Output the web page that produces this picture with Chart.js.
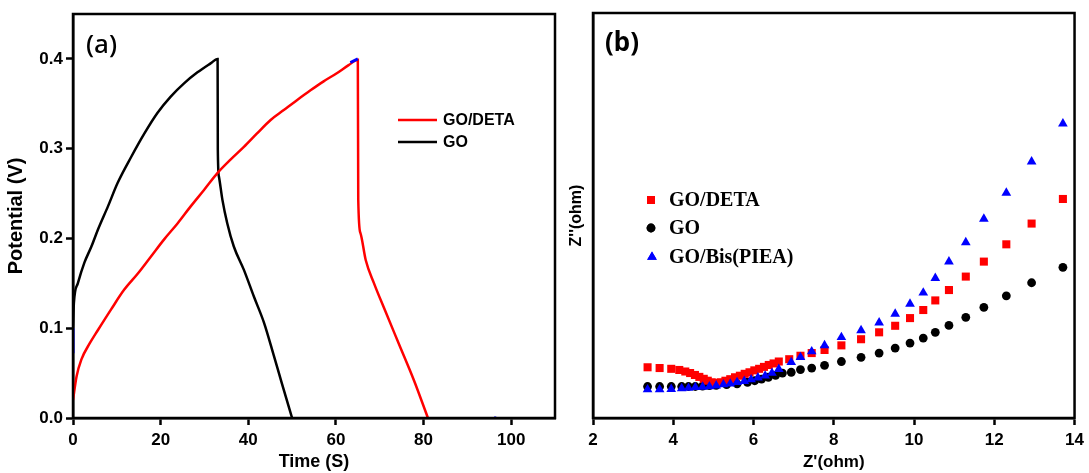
<!DOCTYPE html>
<html>
<head>
<meta charset="utf-8">
<script src="https://cdn.jsdelivr.net/npm/chart.js@4.4.1/dist/chart.umd.min.js"></script>
<style>
    html, body { margin: 0; padding: 0; background: #fff; }
    #wrap { position: relative; width: 1089px; height: 473px; overflow: hidden; }
    #gcdChart { position: absolute; left: 0; top: 0; }
    #eisChart { position: absolute; left: 555px; top: 0; }
</style>
</head>
<body>
<div id="wrap">
    <canvas id="gcdChart" width="560" height="473"></canvas>
    <canvas id="eisChart" width="534" height="473"></canvas>
</div>
<script>
// --- Data: (a) charge/discharge curves ---
const TIME_TICKS = [0, 20, 40, 60, 80, 100];
const POTENTIAL_TICKS = [0.0, 0.1, 0.2, 0.3, 0.4];

const GO_TIME = [0, 0.2, 1.1, 2.6, 4.2, 5.7, 8.0, 10.2, 13.3, 16.3, 19.3, 22.3, 25.4, 28.4, 31.4, 33.0,
    33.05, 33.3, 34.1, 35.2, 36.7, 39.0, 41.3, 43.6, 45.8, 47.7, 50.0];
const GO_POTENTIAL = [0.100, 0.128, 0.150, 0.173, 0.191, 0.210, 0.236, 0.262, 0.291, 0.317, 0.340, 0.358, 0.373, 0.385, 0.395, 0.400,
    0.299, 0.269, 0.243, 0.217, 0.191, 0.165, 0.135, 0.106, 0.070, 0.038, 0.000];

const DETA_TIME = [0, 0.8, 1.9, 3.8, 5.7, 8.7, 11.7, 14.8, 17.8, 20.8, 23.9, 26.9, 29.9, 33.0, 36.0, 39.0, 42.0,
    45.1, 48.1, 51.1, 54.2, 57.2, 60.2, 62.9, 65.0, 65.1, 65.6, 66.8, 68.7, 71.2, 74.5, 77.8, 81.0];
const DETA_POTENTIAL = [0.020, 0.046, 0.065, 0.083, 0.098, 0.121, 0.143, 0.161, 0.180, 0.199, 0.217, 0.236, 0.254, 0.273, 0.288, 0.302, 0.317,
    0.332, 0.343, 0.354, 0.365, 0.375, 0.384, 0.393, 0.399, 0.243, 0.206, 0.176, 0.150, 0.120, 0.081, 0.042, 0.000];

// small blue fragments peeking out in panel (a)
const BIS_TIME_A = [0, 0, null, 63.3, 65.0, null, 96.1, 96.6];
const BIS_POTENTIAL_A = [0.072, 0.100, null, 0.396, 0.400, null, 0.000, 0.000];

// --- Data: (b) Nyquist plot ---
const ZRE_TICKS = [2, 4, 6, 8, 10, 12, 14];

const DETA_ZRE = [3.36, 3.66, 3.95, 4.15, 4.30, 4.42, 4.54, 4.65, 4.76, 4.86, 4.96, 5.06, 5.18, 5.30, 5.42, 5.54, 5.66,
    5.78, 5.90, 6.02, 6.14, 6.26, 6.38, 6.50, 6.63, 6.89, 7.17, 7.45, 7.77, 8.19, 8.68, 9.13, 9.53, 9.90, 10.23,
    10.53, 10.87, 11.29, 11.74, 12.30, 12.93, 13.71];
const DETA_ZIM = [1.32, 1.30, 1.28, 1.25, 1.21, 1.17, 1.12, 1.07, 1.02, 0.97, 0.93, 0.91, 0.93, 0.97, 1.01, 1.06, 1.10,
    1.15, 1.19, 1.24, 1.28, 1.33, 1.38, 1.42, 1.47, 1.53, 1.62, 1.69, 1.77, 1.89, 2.05, 2.23, 2.40, 2.60, 2.81,
    3.06, 3.33, 3.68, 4.07, 4.52, 5.06, 5.70];

const GO_ZRE = [3.36, 3.66, 3.95, 4.21, 4.38, 4.55, 4.73, 4.90, 5.07, 5.33, 5.59, 5.85, 6.03, 6.20, 6.37, 6.55, 6.72,
    6.94, 7.17, 7.45, 7.77, 8.19, 8.68, 9.13, 9.53, 9.90, 10.23, 10.53, 10.87, 11.29, 11.74, 12.30, 12.93, 13.71];
const GO_ZIM = [0.82, 0.82, 0.82, 0.82, 0.82, 0.82, 0.83, 0.84, 0.85, 0.87, 0.89, 0.93, 0.97, 1.01, 1.06, 1.11, 1.17,
    1.19, 1.26, 1.30, 1.37, 1.47, 1.58, 1.69, 1.82, 1.95, 2.08, 2.23, 2.41, 2.62, 2.88, 3.18, 3.52, 3.92];

const BIS_ZRE = [3.36, 3.66, 3.95, 4.21, 4.38, 4.55, 4.73, 4.90, 5.07, 5.25, 5.42, 5.59, 5.77, 5.94, 6.11, 6.29, 6.46,
    6.63, 6.94, 7.17, 7.45, 7.77, 8.19, 8.68, 9.13, 9.53, 9.90, 10.23, 10.53, 10.87, 11.29, 11.74, 12.30, 12.93, 13.71];
const BIS_ZIM = [0.74, 0.74, 0.75, 0.77, 0.78, 0.80, 0.81, 0.82, 0.84, 0.87, 0.89, 0.93, 0.96, 1.00, 1.05, 1.10, 1.17,
    1.27, 1.45, 1.58, 1.73, 1.89, 2.10, 2.28, 2.48, 2.71, 2.97, 3.26, 3.64, 4.07, 4.57, 5.18, 5.86, 6.67, 7.66];

// --- Config ---
const COLORS = {
    deta: '#ff0000',
    go: '#000000',
    bis: '#0000ff',
    axis: '#000000'
};
const SANS = "'Liberation Sans', Arial, sans-serif";
const SERIF = "'Liberation Serif', 'Times New Roman', serif";

const toPoints = (xs, ys) => xs.map((x, i) => ({ x: x, y: ys[i] }));

// frame + legend + panel label, drawn on top of the chart
const framePlugin = {
    id: 'frame',
    afterDraw(chart, args, opts) {
        const { ctx, chartArea: a } = chart;
        ctx.save();
        ctx.strokeStyle = COLORS.axis;
        ctx.lineWidth = 2.5;
        ctx.strokeRect(a.left, a.top, a.right - a.left, a.bottom - a.top);

        ctx.fillStyle = '#000';
        ctx.textBaseline = 'alphabetic';
        ctx.textAlign = 'left';
        ctx.font = opts.labelFont;
        ctx.fillText(opts.label, opts.labelX, opts.labelY);

        opts.legend.forEach(item => {
            ctx.fillStyle = item.color;
            ctx.strokeStyle = item.color;
            if (item.kind === 'line') {
                ctx.lineWidth = 2.5;
                ctx.beginPath();
                ctx.moveTo(item.x, item.y);
                ctx.lineTo(item.x + 39, item.y);
                ctx.stroke();
            } else {
                Chart.helpers.drawPoint(ctx, { pointStyle: item.kind, radius: item.r, borderWidth: 0 }, item.x, item.y);
                ctx.fill();
            }
            ctx.fillStyle = '#000';
            ctx.font = opts.legendFont;
            ctx.textBaseline = 'middle';
            ctx.fillText(item.text, item.tx, item.y + 1);
        });
        ctx.restore();
    }
};

function fixedTicks(list) {
    return scale => { scale.ticks = list.map(v => ({ value: v })); };
}

const tickFont = { family: SANS, size: 17, weight: 'bold' };
const gridStyle = { display: true, drawOnChartArea: false, drawTicks: true, tickLength: 7, tickWidth: 2.5, color: COLORS.axis };

// --- 1. Panel (a): galvanostatic charge/discharge ---
new Chart(document.getElementById('gcdChart'), {
    type: 'line',
    data: {
        datasets: [
            { label: 'GO/DETA', data: toPoints(DETA_TIME, DETA_POTENTIAL), borderColor: COLORS.deta, borderWidth: 2.5, pointRadius: 0, cubicInterpolationMode: 'monotone', order: 1 },
            { label: 'GO', data: toPoints(GO_TIME, GO_POTENTIAL), borderColor: COLORS.go, borderWidth: 2.5, pointRadius: 0, cubicInterpolationMode: 'monotone', order: 2 },
            { label: 'GO/Bis(PIEA)', data: toPoints(BIS_TIME_A, BIS_POTENTIAL_A), borderColor: COLORS.bis, borderWidth: 3, pointRadius: 0, spanGaps: false, order: 0 }
        ]
    },
    options: {
        responsive: false,
        animation: false,
        parsing: false,
        layout: { padding: { top: 14, right: 5, left: 0, bottom: 0 } },
        plugins: {
            legend: { display: false },
            tooltip: { enabled: false },
            frame: {
                label: '(a)', labelX: 86, labelY: 53, labelFont: `500 26px 'Noto Sans', ${SANS}`,
                legendFont: `bold 16px ${SANS}`,
                legend: [
                    { kind: 'line', color: COLORS.deta, x: 398, y: 120, tx: 443, text: 'GO/DETA' },
                    { kind: 'line', color: COLORS.go, x: 398, y: 142, tx: 443, text: 'GO' }
                ]
            }
        },
        scales: {
            x: {
                type: 'linear', min: 0, max: 110,
                afterBuildTicks: fixedTicks(TIME_TICKS),
                afterFit: s => { s.height = 55; },
                grid: gridStyle,
                border: { display: true, width: 2.5, color: COLORS.axis },
                ticks: { color: '#000', font: tickFont, padding: 5, maxRotation: 0 },
                title: { display: true, text: 'Time (S)', color: '#000', font: { family: SANS, size: 18, weight: 'bold' }, padding: { bottom: 0 } }
            },
            y: {
                type: 'linear', min: 0, max: 0.45,
                afterBuildTicks: fixedTicks(POTENTIAL_TICKS),
                afterFit: s => { s.width = 73; },
                grid: gridStyle,
                border: { display: true, width: 2.5, color: COLORS.axis },
                ticks: { color: '#000', font: tickFont, padding: 3, callback: v => v.toFixed(1) },
                title: { display: true, text: 'Potential (V)', color: '#000', font: { family: SANS, size: 20, weight: 'bold' }, padding: { top: 4 } }
            }
        }
    },
    plugins: [framePlugin]
});

// --- 2. Panel (b): Nyquist plot ---
new Chart(document.getElementById('eisChart'), {
    type: 'scatter',
    data: {
        datasets: [
            { label: 'GO/DETA', data: toPoints(DETA_ZRE, DETA_ZIM), pointStyle: 'rect', pointRadius: 5.7, backgroundColor: COLORS.deta, borderWidth: 0, order: 1 },
            { label: 'GO', data: toPoints(GO_ZRE, GO_ZIM), pointStyle: 'circle', pointRadius: 4.4, backgroundColor: COLORS.go, borderWidth: 0, order: 2 },
            { label: 'GO/Bis(PIEA)', data: toPoints(BIS_ZRE, BIS_ZIM), pointStyle: 'triangle', pointRadius: 5.6, backgroundColor: COLORS.bis, borderWidth: 0, order: 0 }
        ]
    },
    options: {
        responsive: false,
        animation: false,
        parsing: false,
        clip: false,
        layout: { padding: { top: 13, right: 10, left: 0, bottom: 0 } },
        plugins: {
            legend: { display: false },
            tooltip: { enabled: false },
            frame: {
                label: '(b)', labelX: 50, labelY: 51, labelFont: `bold 26px 'Noto Sans', ${SANS}`,
                legendFont: `bold 20px ${SERIF}`,
                legend: [
                    { kind: 'rect', r: 5.7, color: COLORS.deta, x: 96, y: 200, tx: 114, text: 'GO/DETA' },
                    { kind: 'circle', r: 4.4, color: COLORS.go, x: 96, y: 228, tx: 114, text: 'GO' },
                    { kind: 'triangle', r: 5.6, color: COLORS.bis, x: 97, y: 257, tx: 114, text: 'GO/Bis(PIEA)' }
                ]
            }
        },
        scales: {
            x: {
                type: 'linear', min: 2, max: 14,
                afterBuildTicks: fixedTicks(ZRE_TICKS),
                afterFit: s => { s.height = 55; },
                grid: gridStyle,
                border: { display: true, width: 2.5, color: COLORS.axis },
                ticks: { color: '#000', font: tickFont, padding: 5, maxRotation: 0 },
                title: { display: true, text: "Z'(ohm)", color: '#000', font: { family: SANS, size: 17, weight: 'bold' }, padding: { bottom: 0 } }
            },
            y: {
                type: 'linear', min: 0, max: 10.54,
                afterFit: s => { s.width = 38; },
                grid: { display: false },
                border: { display: true, width: 2.5, color: COLORS.axis },
                ticks: { display: false },
                title: { display: true, text: "Z''(ohm)", color: '#000', font: { family: SANS, size: 16, weight: 'bold' }, padding: { top: 12 } }
            }
        }
    },
    plugins: [framePlugin]
});
</script>
</body>
</html>
